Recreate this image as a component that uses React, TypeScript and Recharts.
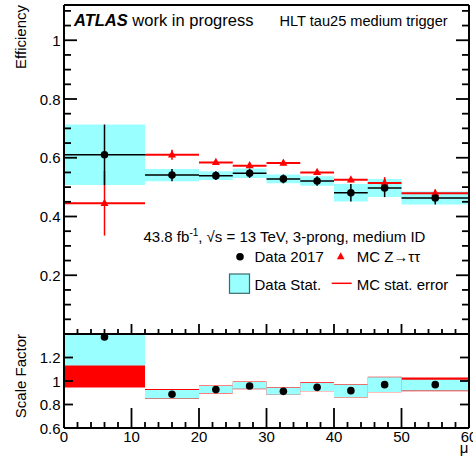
import React from 'react';
import { ComposedChart, Scatter, ErrorBar, XAxis, YAxis, ReferenceArea } from 'recharts';

// pile-up bins in <mu>
const binEdges = [0, 12, 20, 25, 30, 35, 40, 45, 50, 60];
const binCenters = [6, 16, 22.5, 27.5, 32.5, 37.5, 42.5, 47.5, 55];

// Data 2017 trigger efficiency + stat. error
const dataEff = [0.61, 0.541, 0.539, 0.547, 0.528, 0.521, 0.481, 0.497, 0.463];
const dataErr = [0.103, 0.021, 0.015, 0.016, 0.015, 0.016, 0.03, 0.031, 0.022];

// MC Z->tautau efficiency + stat. error
const mcEff = [0.445, 0.61, 0.584, 0.573, 0.582, 0.55, 0.525, 0.514, 0.479];
const mcErr = [0.11, 0.017, 0.008, 0.008, 0.008, 0.008, 0.008, 0.02, 0.013];

// scale factor data/MC with data-stat and MC-stat bands
const sf = [1.374, 0.887, 0.927, 0.957, 0.912, 0.946, 0.918, 0.969, 0.969];
const sfDataLo = [1.131, 0.852, 0.897, 0.933, 0.884, 0.915, 0.862, 0.907, 0.92];
const sfDataHi = [1.62, 0.923, 0.957, 0.991, 0.942, 0.983, 0.968, 1.032, 1.01];
const sfMcLo = [0.944, 0.847, 0.893, 0.929, 0.881, 0.912, 0.859, 0.904, 0.912];
const sfMcHi = [1.8, 0.932, 0.961, 0.995, 0.946, 0.989, 0.972, 1.037, 1.029];

// axis labels
const effLabels = [0.2, 0.4, 0.6, 0.8, 1];
const sfLabels = [0.6, 0.8, 1, 1.2];
const muLabels = [0, 10, 20, 30, 40, 50, 60];

const FONT = '"Liberation Sans", Arial, Helvetica, sans-serif';
const CYAN = '#00ffff';

const steps = (lo: number, hi: number, d: number) =>
  Array.from({ length: Math.round((hi - lo) / d) + 1 }, (_, i) => +(lo + i * d).toFixed(3));

const effTicks = steps(0, 1.1, 0.05);
const sfTicks = steps(0.6, 1.2, 0.2);
const muTicks = steps(0, 60, 2);

const halfWidth = (i: number) => (binEdges[i + 1] - binEdges[i]) / 2;

const dataRows = binCenters.map((x, i) => ({ x, y: dataEff[i], ex: halfWidth(i), ey: dataErr[i] }));
const mcRows = binCenters.map((x, i) => ({ x, y: mcEff[i], ex: halfWidth(i), ey: mcErr[i] }));
const sfRows = binCenters.map((x, i) => ({ x, y: sf[i] }));

type Side = 'left' | 'right' | 'top' | 'bottom';

const fmt = (v: number) => String(Math.round(v * 100) / 100);

// ROOT-style inward ticks, labels only on the listed values
function makeTick(side: Side, majorStep: number, majorLen: number, minorLen: number, labels: number[] = []) {
  return (props: any) => {
    const { x, y, payload } = props;
    const v = Number(payload.value);
    const major = Math.abs(v / majorStep - Math.round(v / majorStep)) < 1e-6;
    const len = major ? majorLen : minorLen;
    const dx = side === 'left' ? len : side === 'right' ? -len : 0;
    const dy = side === 'top' ? len : side === 'bottom' ? -len : 0;
    const showLabel = labels.some(l => Math.abs(l - v) < 1e-6);
    return (
      <g>
        {len > 0 && <line x1={x} y1={y} x2={x + dx} y2={y + dy} stroke="#000" strokeWidth={1.8} />}
        {showLabel && side === 'left' && (
          <text x={x - 3.5} y={y + 5.5} textAnchor="end" fontSize={15} fontFamily={FONT} fill="#000">{fmt(v)}</text>
        )}
        {showLabel && side === 'bottom' && (
          <text x={x} y={y + 14} textAnchor="middle" fontSize={15} fontFamily={FONT} fill="#000">{fmt(v)}</text>
        )}
      </g>
    );
  };
}

const frame = { stroke: '#000', strokeWidth: 2 };
const axisBase = { tickLine: false, tickSize: 0, tickMargin: 0, interval: 0 as const, axisLine: frame, allowDataOverflow: true };

const Dot = (p: any) => <circle cx={p.cx} cy={p.cy} r={3.8} fill="#000" />;
const Tri = (p: any) => (
  <path d={`M${p.cx},${p.cy - 4.6} L${p.cx + 4},${p.cy + 2.6} L${p.cx - 4},${p.cy + 2.6} Z`} fill="#ff0000" />
);

const EfficiencyPanel = () => (
  <ComposedChart width={473} height={335} margin={{ top: 4, right: 0, bottom: 0, left: 0 }}>
    <XAxis {...axisBase} type="number" dataKey="x" domain={[0, 60]} ticks={muTicks} height={1}
      tick={makeTick('bottom', 10, 10, 5)} />
    <XAxis {...axisBase} xAxisId="top" orientation="top" type="number" domain={[0, 60]} ticks={muTicks} height={1}
      tick={makeTick('top', 10, 10, 5)} />
    <YAxis {...axisBase} type="number" dataKey="y" domain={[0, 1.12]} ticks={effTicks} width={64}
      tick={makeTick('left', 0.2, 13, 7, effLabels)} />
    <YAxis {...axisBase} yAxisId="right" orientation="right" type="number" domain={[0, 1.12]} ticks={effTicks} width={4}
      tick={makeTick('right', 0.2, 13, 7)} />

    {binCenters.map((_, i) => (
      <ReferenceArea key={`stat-${i}`} x1={binEdges[i]} x2={binEdges[i + 1]}
        y1={dataEff[i] - dataErr[i]} y2={dataEff[i] + dataErr[i]}
        fill={CYAN} fillOpacity={0.4} stroke="none" ifOverflow="hidden" />
    ))}

    <Scatter data={mcRows} shape={Tri} isAnimationActive={false}>
      <ErrorBar dataKey="ex" direction="x" width={0} stroke="#ff0000" strokeWidth={2} isAnimationActive={false} />
      <ErrorBar dataKey="ey" direction="y" width={0} stroke="#ff0000" strokeWidth={1.5} isAnimationActive={false} />
    </Scatter>
    <Scatter data={dataRows} shape={Dot} isAnimationActive={false}>
      <ErrorBar dataKey="ex" direction="x" width={0} stroke="#000" strokeWidth={1.5} isAnimationActive={false} />
      <ErrorBar dataKey="ey" direction="y" width={0} stroke="#000" strokeWidth={1.5} isAnimationActive={false} />
    </Scatter>
  </ComposedChart>
);

const ScaleFactorPanel = () => (
  <ComposedChart width={473} height={129} margin={{ top: 0, right: 0, bottom: 0, left: 0 }}>
    <XAxis {...axisBase} type="number" dataKey="x" domain={[0, 60]} ticks={muTicks} height={34}
      tick={makeTick('bottom', 10, 20, 6, muLabels)} />
    <XAxis {...axisBase} xAxisId="top" orientation="top" type="number" domain={[0, 60]} ticks={muTicks} height={1}
      tick={makeTick('top', 10, 12, 6)} />
    <YAxis {...axisBase} type="number" dataKey="y" domain={[0.6, 1.4]} ticks={sfTicks} width={64}
      tick={makeTick('left', 0.2, 9, 0, sfLabels)} />
    <YAxis {...axisBase} yAxisId="right" orientation="right" type="number" domain={[0.6, 1.4]} ticks={sfTicks} width={4}
      tick={makeTick('right', 0.2, 9, 0)} />

    {binCenters.map((_, i) => (
      <ReferenceArea key={`mc-${i}`} x1={binEdges[i]} x2={binEdges[i + 1]} y1={sfMcLo[i]} y2={sfMcHi[i]}
        fill="#ff0000" fillOpacity={1} stroke="none" ifOverflow="hidden" />
    ))}
    {binCenters.map((_, i) => (
      <ReferenceArea key={`data-${i}`} x1={binEdges[i]} x2={binEdges[i + 1]} y1={sfDataLo[i]} y2={sfDataHi[i]}
        fill="#99ffff" fillOpacity={1} stroke="none" ifOverflow="hidden" />
    ))}

    <Scatter data={sfRows} shape={Dot} isAnimationActive={false} />
  </ComposedChart>
);

const txt = { fontFamily: FONT, fill: '#000' };

const Annotations = () => (
  <svg width={473} height={462} style={{ position: 'absolute', left: 0, top: 0, pointerEvents: 'none' }}>
    <text x={74} y={26} fontSize={16.5} {...txt}>
      <tspan fontWeight="bold" fontStyle="italic">ATLAS</tspan>
      <tspan> work in progress</tspan>
    </text>
    <text x={279.5} y={26} fontSize={14.6} {...txt}>HLT tau25 medium trigger</text>

    <text x={143.5} y={242} fontSize={15} {...txt}>
      43.8 fb<tspan dy={-6} fontSize={10}>-1</tspan>
      <tspan dy={6}>, √s = 13 TeV, 3-prong, medium ID</tspan>
    </text>
    <circle cx={240} cy={256.7} r={3.8} fill="#000" />
    <text x={254.5} y={262} fontSize={15} {...txt}>Data 2017</text>
    <path d="M340.7,252.2 L344.5,259.3 L336.9,259.3 Z" fill="#ff0000" />
    <text x={356.7} y={262} fontSize={15} {...txt}>MC Z→ττ</text>

    <rect x={229.5} y={274} width={20} height={19.3} fill="#99ffff" stroke="#3d6b6b" strokeWidth={1.2} />
    <text x={254.5} y={290} fontSize={15} {...txt}>Data Stat.</text>
    <line x1={331.7} y1={283.3} x2={351.7} y2={283.3} stroke="#ff0000" strokeWidth={1.5} />
    <text x={356.7} y={290} fontSize={15} {...txt}>MC stat. error</text>

    <text transform="translate(26,5) rotate(-90)" textAnchor="end" fontSize={15} {...txt}>Efficiency</text>
    <text transform="translate(26,334) rotate(-90)" textAnchor="end" fontSize={15} {...txt}>Scale Factor</text>
    <text x={468.5} y={453} textAnchor="end" fontSize={15} {...txt}>μ</text>
  </svg>
);

export default function App() {
  return (
    <div style={{ position: 'absolute', left: 0, top: 0, width: 473, height: 462, background: '#fff', overflow: 'hidden' }}>
      <div style={{ position: 'absolute', left: 0, top: 0 }}>
        <EfficiencyPanel />
      </div>
      <div style={{ position: 'absolute', left: 0, top: 333 }}>
        <ScaleFactorPanel />
      </div>
      <Annotations />
    </div>
  );
}
